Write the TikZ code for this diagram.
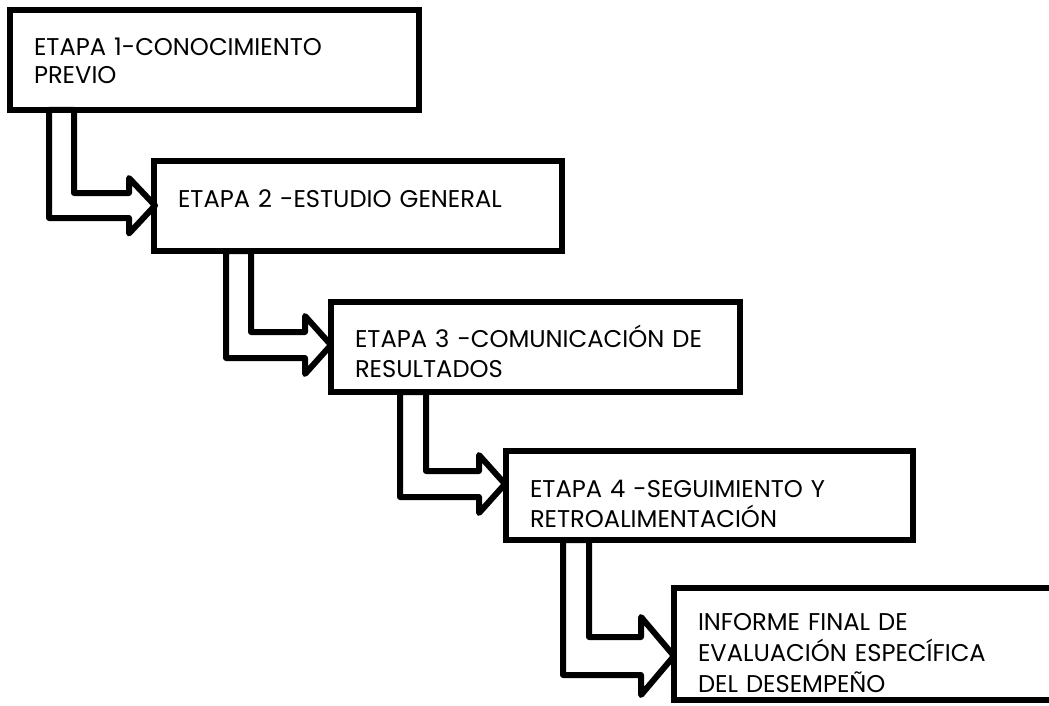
\documentclass[tikz,border=0pt]{standalone}
\usepackage{fontspec}
\setmainfont{Poppins}
\usetikzlibrary{calc}
\tikzset{
  etapa/.style={draw, line width=3pt, outer sep=0pt, inner xsep=12pt,
    anchor=north west, align=left, fill=white, text height=10pt,
    font=\fontsize{12.1}{15}\selectfont},
  hollow/.style={draw, line width=3pt, line join=round, fill=white}
}

\begin{document}
\begin{tikzpicture}[x=0.5pt,y=-0.5pt]
    \useasboundingbox (0,0) rectangle (1049,706);
    \clip (0,0) rectangle (1049,706);
    % etapas
    \node[etapa, minimum width=204.5pt, minimum height=50pt, text width=180.5pt,
      text depth=14pt, font=\fontsize{12.1}{13.5}\selectfont] (b1) at (10,10)
      {ETAPA 1-CONOCIMIENTO\\PREVIO};
    \node[etapa, minimum width=204pt, minimum height=45pt, text width=180pt,
      text depth=9pt] (b2) at (154,161)
      {ETAPA 2 -ESTUDIO GENERAL};
    \node[etapa, minimum width=204.5pt, minimum height=45pt, text width=180.5pt,
      text depth=10pt] (b3) at (331,302)
      {ETAPA 3 -COMUNICACIÓN DE\\RESULTADOS};
    \node[etapa, minimum width=203.5pt, minimum height=44.5pt, text width=179.5pt,
      text depth=8.5pt] (b4) at (506,451)
      {ETAPA 4 -SEGUIMIENTO Y\\RETROALIMENTACIÓN};
    \node[etapa, minimum width=200pt, minimum height=56pt, text width=176pt,
      text depth=24pt, font=\fontsize{12.1}{15.5}\selectfont] (b5) at (674,588)
      {INFORME FINAL DE\\EVALUACIÓN ESPECÍFICA\\DEL DESEMPEÑO};
    % flechas
    \draw[hollow] ($(b1.south west)+(39,0)$) |- ($(b2.west)+(-25,12)$) -- ++(0,15.5)
      -- ($(b2.west)+(1,-0.5)$) -- ($(b2.west)+(-25,-28)$) -- ++(0,15)
      -| ($(b1.south west)+(64,0)$) -- cycle;
    \draw[hollow] ($(b2.south west)+(72,0)$) |- ($(b3.west)+(-26,11)$) -- ++(0,16)
      -- ($(b3.west)+(0,-2)$) -- ($(b3.west)+(-26,-31)$) -- ++(0,16)
      -| ($(b2.south west)+(97,0)$) -- cycle;
    \draw[hollow] ($(b3.south west)+(69,0)$) |- ($(b4.west)+(-27,1.5)$) -- ++(0,16)
      -- ($(b4.west)+(-1,-11.5)$) -- ($(b4.west)+(-27,-40.5)$) -- ++(0,16)
      -| ($(b3.south west)+(95,0)$) -- cycle;
    \draw[hollow] ($(b4.south west)+(57,0)$) |- ($(b5.west)+(-33,31)$) -- ++(0,20)
      -- ($(b5.west)+(0,12)$) -- ($(b5.west)+(-33,-27)$) -- ++(0,20)
      -| ($(b4.south west)+(83,0)$) -- cycle;
\end{tikzpicture}
\end{document}
